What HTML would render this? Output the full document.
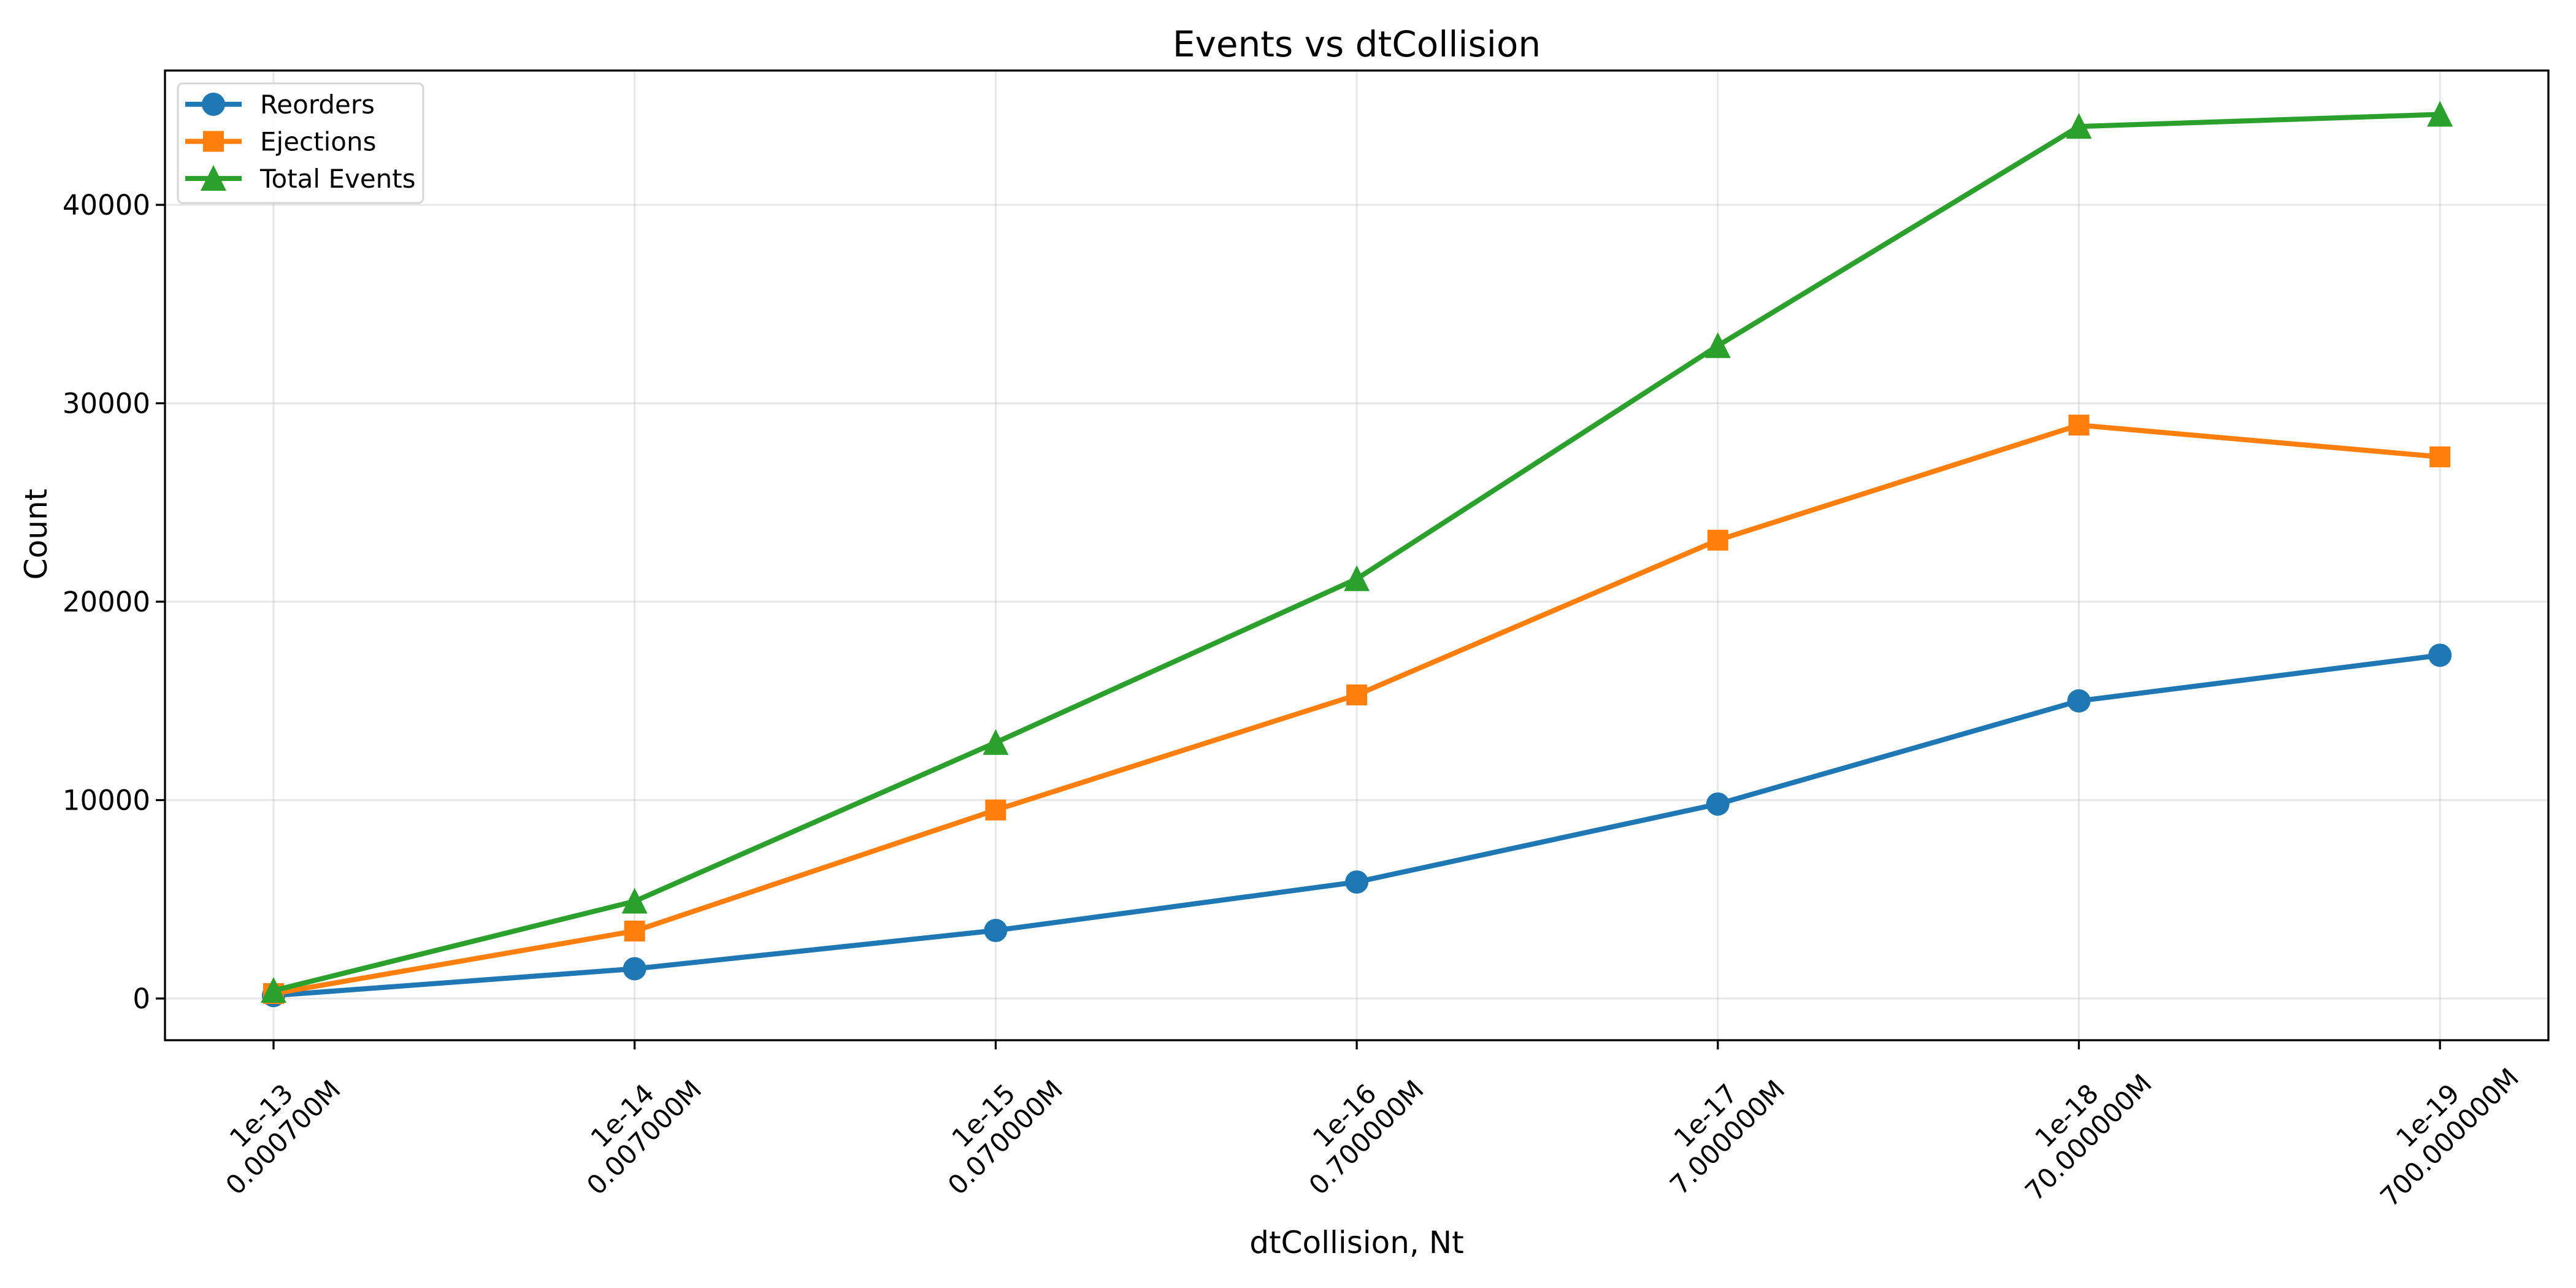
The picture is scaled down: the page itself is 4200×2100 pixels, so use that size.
<!DOCTYPE html>
<html><head><meta charset="utf-8"><style>
html,body{margin:0;padding:0;background:#fff}
svg{display:block;font-family:"DejaVu Sans","Liberation Sans",sans-serif}
</style></head><body>
<svg id="chart" width="4200" height="2100" viewBox="0 0 4200 2100" xmlns="http://www.w3.org/2000/svg">
<rect width="4200" height="2100" fill="#fff"/>
<text x="2212" y="92" font-size="58" text-anchor="middle">Events vs dtCollision</text>
<g id="grid"></g>
<g id="series"></g>
<rect x="269" y="115" width="3886" height="1581" fill="none" stroke="#000" stroke-width="3.3"/>
<g id="axes"></g>
<text x="2212" y="2043" font-size="50" text-anchor="middle">dtCollision, Nt</text>
<text transform="translate(76,871) rotate(-90)" font-size="50" text-anchor="middle">Count</text>
<g id="legend">
<rect x="290" y="136" width="400" height="195" rx="8" fill="#fff" fill-opacity="0.8" stroke="#d6d6d6" stroke-width="3"/>
</g>
</svg>
<script>
const categories = ["1e-13\n0.000700M","1e-14\n0.007000M","1e-15\n0.070000M","1e-16\n0.700000M","1e-17\n7.000000M","1e-18\n70.000000M","1e-19\n700.000000M"];
const reorders = [150, 1500, 3430, 5870, 9800, 15000, 17300];
const ejections = [250, 3400, 9500, 15300, 23100, 28900, 27300];
const totalEvents = [400, 4900, 12900, 21150, 32900, 43950, 44560];
const yTicks = [0, 10000, 20000, 30000, 40000];
const yTickLabels = ["0","10000","20000","30000","40000"];

const NS = "http://www.w3.org/2000/svg";
const plotL = 269, plotR = 4155, plotT = 115, plotB = 1696;
const x0 = 446, dx = 588.7;
const yMin = -2102, yMax = 46770;
function xs(i){ return x0 + i*dx; }
function ys(v){ return plotB - (v - yMin)/(yMax - yMin)*(plotB - plotT); }
function mk(tag, attrs, parent){ const e=document.createElementNS(NS,tag); for(const k in attrs) e.setAttribute(k, attrs[k]); parent.appendChild(e); return e; }

const grid = document.getElementById('grid');
const axes = document.getElementById('axes');
const series = document.getElementById('series');

categories.forEach((c,i)=>{
  const x = xs(i);
  const g = mk('line',{x1:x,x2:x,y1:plotT,y2:plotB,stroke:'#b0b0b0','stroke-opacity':0.3,'stroke-width':3},grid);
  
  
  const t = mk('line',{x1:x,x2:x,y1:plotB,y2:plotB+15,stroke:'#000','stroke-width':3.3},axes);
  
  
  const cx = x + 14, cy = 1853;
  const lbl = mk('text',{'font-size':43,'text-anchor':'middle',transform:`rotate(-45 ${cx} ${cy})`},axes);
  
  
  const parts = c.split('\n');
  parts.forEach((p,j)=>{
    const ts = mk('tspan',{x:cx, y: cy - 8 + (j - (parts.length-1)/2)*50},lbl);
    ts.textContent = p;
  });
});

yTicks.forEach((v,i)=>{
  const y = ys(v);
  const g = mk('line',{x1:plotL,x2:plotR,y1:y,y2:y,stroke:'#b0b0b0','stroke-opacity':0.3,'stroke-width':3},grid);
  
  
  const t = mk('line',{x1:plotL-15,x2:plotL,y1:y,y2:y,stroke:'#000','stroke-width':3.3},axes);
  
  
  const lbl = mk('text',{x:plotL-24,y:y+16,'font-size':45,'text-anchor':'end'},axes);
  
  
  lbl.textContent = yTickLabels[i];
});

function marker(shape, x, y, color, parent){
  let e;
  if(shape==='circle'){ e = mk('circle',{cx:x,cy:y,r:19,fill:color},parent); }
  else if(shape==='square'){ e = mk('rect',{x:x-17,y:y-17,width:34,height:34,fill:color},parent); }
  else { e = mk('polygon',{points:`${x},${y-22} ${x+21},${y+20} ${x-21},${y+20}`,fill:color},parent); }
  return e;
}

const defs = [
  {name:'reorders', label:'Reorders', data:reorders, color:'#1f77b4', shape:'circle'},
  {name:'ejections', label:'Ejections', data:ejections, color:'#ff7f0e', shape:'square'},
  {name:'total-events', label:'Total Events', data:totalEvents, color:'#2ca02c', shape:'triangle'}
];
defs.forEach(s=>{
  const g = mk('g',{},series);
  
  
  const pts = s.data.map((v,i)=>`${xs(i)},${ys(v)}`).join(' ');
  const pl = mk('polyline',{points:pts,fill:'none',stroke:s.color,'stroke-width':8.3,'stroke-linejoin':'round','stroke-linecap':'square'},g);
  
  
  s.data.forEach((v,i)=>{
    const m = marker(s.shape, xs(i), ys(v), s.color, g);
    
    
  });
});

const legend = document.getElementById('legend');
defs.forEach((s,i)=>{
  const y = 170 + i*60.5;
  const g = mk('g',{},legend);
  
  
  mk('line',{x1:302,x2:394,y1:y,y2:y,stroke:s.color,'stroke-width':8.3},g);
  marker(s.shape, 348, y, s.color, g);
  const t = mk('text',{x:424,y:y+15,'font-size':42},g);
  t.textContent = s.label;
});
</script>
</body></html>
